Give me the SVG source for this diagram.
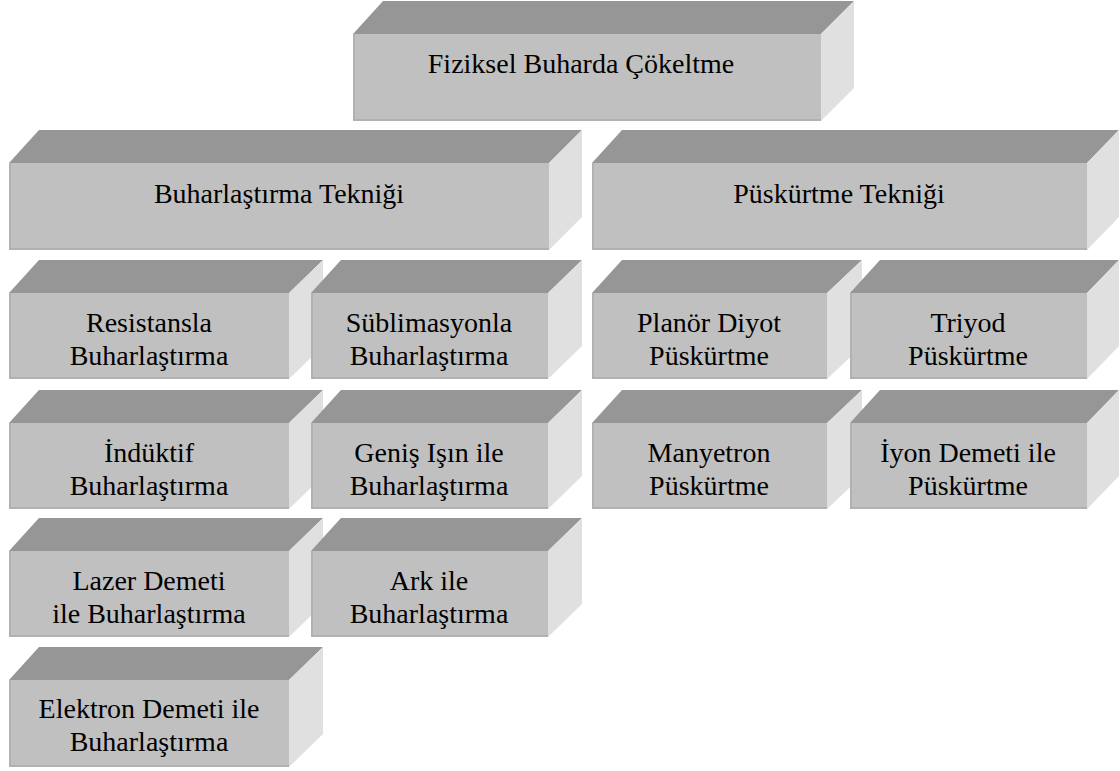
<svg xmlns="http://www.w3.org/2000/svg" width="1120" height="771" viewBox="0 0 1120 771">
<style>
.top{fill:#969696}
.side{fill:#e0e0e0}
.front{fill:#c0c0c0}
.edge{fill:none;stroke:#acacac;stroke-width:1.5}
text{font-family:'Liberation Serif','Times New Roman','DejaVu Serif',serif;font-size:28px;fill:#000;text-anchor:middle}
</style>
<rect width="1120" height="771" fill="#fff"/>
<g id="connectors"></g>
<g id="n-fbc">
<polygon class="top" points="353,34 383,1 854,1 821,34"/>
<polygon class="side" points="821,34 854,1 854,88 821,121"/>
<rect class="front" x="353" y="34" width="468" height="87"/>
<polyline class="edge" points="354,34 354,120 821,120"/>
<text x="581" y="73">Fiziksel Buharda Çökeltme</text>
</g>
<g id="n-buhar">
<polygon class="top" points="9,163 39,130 582,130 549,163"/>
<polygon class="side" points="549,163 582,130 582,217 549,250"/>
<rect class="front" x="9" y="163" width="540" height="87"/>
<polyline class="edge" points="10,163 10,249 549,249"/>
<text x="279" y="203">Buharlaştırma Tekniği</text>
</g>
<g id="n-pusk">
<polygon class="top" points="592,163 622,130 1119,130 1087,163"/>
<polygon class="side" points="1087,163 1119,130 1119,217 1087,250"/>
<rect class="front" x="592" y="163" width="495" height="87"/>
<polyline class="edge" points="593,163 593,249 1087,249"/>
<text x="839" y="203">Püskürtme Tekniği</text>
</g>
<g id="n-resist">
<polygon class="top" points="9,293 39,260 323,260 289,293"/>
<polygon class="side" points="289,293 323,260 323,346 289,379"/>
<rect class="front" x="9" y="293" width="280" height="86"/>
<polyline class="edge" points="10,293 10,378 289,378"/>
<text x="149" y="332">Resistansla</text>
<text x="149" y="365">Buharlaştırma</text>
</g>
<g id="n-sublim">
<polygon class="top" points="311,293 341,260 582,260 548,293"/>
<polygon class="side" points="548,293 582,260 582,346 548,379"/>
<rect class="front" x="311" y="293" width="237" height="86"/>
<polyline class="edge" points="312,293 312,378 548,378"/>
<text x="429" y="332">Süblimasyonla</text>
<text x="429" y="365">Buharlaştırma</text>
</g>
<g id="n-planor">
<polygon class="top" points="592,293 622,260 862,260 827,293"/>
<polygon class="side" points="827,293 862,260 862,346 827,379"/>
<rect class="front" x="592" y="293" width="235" height="86"/>
<polyline class="edge" points="593,293 593,378 827,378"/>
<text x="709" y="332">Planör Diyot</text>
<text x="709" y="365">Püskürtme</text>
</g>
<g id="n-triyod">
<polygon class="top" points="850,293 880,260 1119,260 1087,293"/>
<polygon class="side" points="1087,293 1119,260 1119,346 1087,379"/>
<rect class="front" x="850" y="293" width="237" height="86"/>
<polyline class="edge" points="851,293 851,378 1087,378"/>
<text x="968" y="332">Triyod</text>
<text x="968" y="365">Püskürtme</text>
</g>
<g id="n-indukt">
<polygon class="top" points="9,423 39,390 323,390 289,423"/>
<polygon class="side" points="289,423 323,390 323,476 289,509"/>
<rect class="front" x="9" y="423" width="280" height="86"/>
<polyline class="edge" points="10,423 10,508 289,508"/>
<text x="149" y="462">İndüktif</text>
<text x="149" y="495">Buharlaştırma</text>
</g>
<g id="n-genis">
<polygon class="top" points="311,423 341,390 582,390 548,423"/>
<polygon class="side" points="548,423 582,390 582,476 548,509"/>
<rect class="front" x="311" y="423" width="237" height="86"/>
<polyline class="edge" points="312,423 312,508 548,508"/>
<text x="429" y="462">Geniş Işın ile</text>
<text x="429" y="495">Buharlaştırma</text>
</g>
<g id="n-manyet">
<polygon class="top" points="592,423 622,390 862,390 827,423"/>
<polygon class="side" points="827,423 862,390 862,476 827,509"/>
<rect class="front" x="592" y="423" width="235" height="86"/>
<polyline class="edge" points="593,423 593,508 827,508"/>
<text x="709" y="462">Manyetron</text>
<text x="709" y="495">Püskürtme</text>
</g>
<g id="n-iyon">
<polygon class="top" points="850,423 880,390 1119,390 1087,423"/>
<polygon class="side" points="1087,423 1119,390 1119,476 1087,509"/>
<rect class="front" x="850" y="423" width="237" height="86"/>
<polyline class="edge" points="851,423 851,508 1087,508"/>
<text x="968" y="462">İyon Demeti ile</text>
<text x="968" y="495">Püskürtme</text>
</g>
<g id="n-lazer">
<polygon class="top" points="9,551 39,518 323,518 289,551"/>
<polygon class="side" points="289,551 323,518 323,604 289,637"/>
<rect class="front" x="9" y="551" width="280" height="86"/>
<polyline class="edge" points="10,551 10,636 289,636"/>
<text x="149" y="590">Lazer Demeti</text>
<text x="149" y="623">ile Buharlaştırma</text>
</g>
<g id="n-ark">
<polygon class="top" points="311,551 341,518 582,518 548,551"/>
<polygon class="side" points="548,551 582,518 582,604 548,637"/>
<rect class="front" x="311" y="551" width="237" height="86"/>
<polyline class="edge" points="312,551 312,636 548,636"/>
<text x="429" y="590">Ark ile</text>
<text x="429" y="623">Buharlaştırma</text>
</g>
<g id="n-elektron">
<polygon class="top" points="9,680 39,647 323,647 289,680"/>
<polygon class="side" points="289,680 323,647 323,734 289,767"/>
<rect class="front" x="9" y="680" width="280" height="87"/>
<polyline class="edge" points="10,680 10,766 289,766"/>
<text x="149" y="718">Elektron Demeti ile</text>
<text x="149" y="751">Buharlaştırma</text>
</g>
</svg>
